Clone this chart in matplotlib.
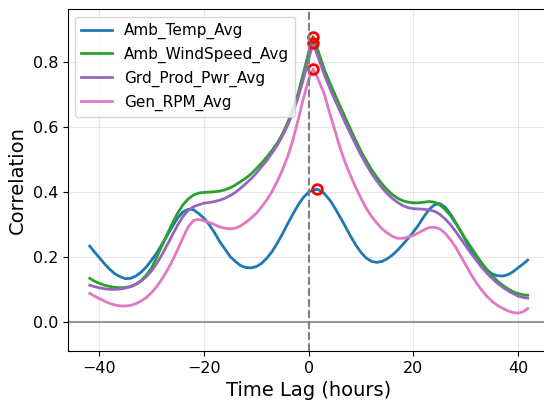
import numpy as np
import matplotlib
matplotlib.use("Agg")
import matplotlib.pyplot as plt

# lag in hours
lags = [-41.8, -41, -40, -39, -38, -37, -36, -35, -34, -33, -32, -31, -30, -29,
        -28, -27, -26, -25, -24, -23, -22, -21, -20, -19, -18, -17, -16, -15,
        -14, -13, -12, -11, -10, -9, -8, -7, -6, -5, -4, -3, -2, -1, 0,
        0.83, 1.67,
        3, 4, 5, 6, 7, 8, 9, 10, 11, 12, 13, 14, 15, 16, 17, 18, 19, 20, 21,
        22, 23, 24, 25, 26, 27, 28, 29, 30, 31, 32, 33, 34, 35, 36, 37, 38, 39,
        40, 41, 41.8]

amb_temp = [0.234, 0.218, 0.199, 0.180, 0.163, 0.149, 0.140, 0.134, 0.135, 0.142,
            0.154, 0.170, 0.191, 0.213, 0.240, 0.267, 0.295, 0.321, 0.339, 0.347,
            0.346, 0.334, 0.320, 0.300, 0.276, 0.248, 0.225, 0.202, 0.187, 0.174,
            0.168, 0.167, 0.171, 0.181, 0.197, 0.217, 0.243, 0.272, 0.303, 0.333,
            0.361, 0.384, 0.400,
            0.406, 0.409,
            0.395, 0.376, 0.351, 0.323, 0.294, 0.264, 0.237, 0.214, 0.197, 0.187,
            0.184, 0.187, 0.195, 0.207, 0.222, 0.240, 0.258, 0.278, 0.300, 0.325,
            0.347, 0.361, 0.365, 0.354, 0.334, 0.308, 0.280, 0.250, 0.221, 0.198,
            0.176, 0.160, 0.149, 0.143, 0.142, 0.146, 0.155, 0.168, 0.180, 0.191]

amb_wind = [0.135, 0.127, 0.120, 0.114, 0.110, 0.107, 0.106, 0.107, 0.110, 0.117,
            0.128, 0.145, 0.167, 0.200, 0.236, 0.271, 0.305, 0.336, 0.361, 0.379,
            0.391, 0.397, 0.399, 0.400, 0.401, 0.403, 0.407, 0.413, 0.422, 0.432,
            0.443, 0.456, 0.472, 0.489, 0.508, 0.528, 0.551, 0.579, 0.614, 0.655,
            0.705, 0.766, 0.830,
            0.878, 0.840,
            0.776, 0.737, 0.700, 0.664, 0.628, 0.592, 0.558, 0.525, 0.496, 0.469,
            0.446, 0.425, 0.407, 0.392, 0.381, 0.373, 0.369, 0.367, 0.367, 0.369,
            0.371, 0.369, 0.361, 0.347, 0.329, 0.305, 0.280, 0.254, 0.230, 0.206,
            0.183, 0.162, 0.144, 0.127, 0.114, 0.103, 0.094, 0.088, 0.084, 0.083]

grd_pwr = [0.114, 0.110, 0.106, 0.103, 0.101, 0.101, 0.102, 0.105, 0.109, 0.116,
           0.126, 0.140, 0.158, 0.181, 0.208, 0.238, 0.269, 0.299, 0.325, 0.344,
           0.355, 0.361, 0.366, 0.368, 0.371, 0.375, 0.381, 0.389, 0.399, 0.412,
           0.426, 0.441, 0.458, 0.478, 0.497, 0.520, 0.544, 0.573, 0.606, 0.645,
           0.692, 0.748, 0.810,
           0.857, 0.820,
           0.760, 0.720, 0.683, 0.648, 0.612, 0.578, 0.545, 0.513, 0.484, 0.457,
           0.434, 0.413, 0.395, 0.380, 0.368, 0.358, 0.352, 0.349, 0.348, 0.347,
           0.345, 0.341, 0.332, 0.318, 0.301, 0.280, 0.257, 0.234, 0.211, 0.190,
           0.169, 0.151, 0.135, 0.120, 0.108, 0.097, 0.088, 0.080, 0.076, 0.074]

gen_rpm = [0.089, 0.081, 0.073, 0.065, 0.058, 0.053, 0.050, 0.050, 0.052, 0.057,
           0.065, 0.076, 0.091, 0.110, 0.133, 0.160, 0.190, 0.224, 0.260, 0.293,
           0.313, 0.316, 0.312, 0.307, 0.300, 0.293, 0.289, 0.287, 0.289, 0.296,
           0.307, 0.320, 0.335, 0.354, 0.376, 0.402, 0.433, 0.469, 0.510, 0.561,
           0.623, 0.689, 0.746,
           0.778, 0.752,
           0.700, 0.643, 0.590, 0.535, 0.489, 0.450, 0.413, 0.380, 0.350, 0.325,
           0.305, 0.287, 0.274, 0.264, 0.258, 0.258, 0.262, 0.267, 0.275, 0.284,
           0.291, 0.292, 0.287, 0.274, 0.255, 0.232, 0.204, 0.175, 0.147, 0.121,
           0.099, 0.080, 0.064, 0.052, 0.043, 0.035, 0.030, 0.028, 0.033, 0.042]

series = {
    "Amb_Temp_Avg": (amb_temp, "tab:blue"),
    "Amb_WindSpeed_Avg": (amb_wind, "tab:green"),
    "Grd_Prod_Pwr_Avg": (grd_pwr, "tab:purple"),
    "Gen_RPM_Avg": (gen_rpm, "tab:pink"),
}

fig = plt.figure(figsize=(5.44, 4.01), dpi=100)
ax = fig.add_axes([0.1245, 0.125, 0.886, 0.852])

for name, (vals, col) in series.items():
    ax.plot(lags, vals, color=col, lw=2, label=name)

# mark the peak of each curve
for name, (vals, col) in series.items():
    i = int(np.argmax(vals))
    ax.plot(lags[i], vals[i], 'o', mfc='none', mec='red', ms=7, mew=2)

ax.axvline(0, color='grey', ls='--', lw=1.5)
ax.axhline(0, color='grey', lw=1.5, alpha=0.8)

ax.set_xlim(-46, 46)
ax.set_ylim(-0.088, 0.962)
ax.set_xticks([-40, -20, 0, 20, 40])
ax.set_yticks([0.0, 0.2, 0.4, 0.6, 0.8])
ax.grid(True, alpha=0.3)
ax.tick_params(labelsize=11.5)
ax.set_xlabel('Time Lag (hours)', fontsize=14)
ax.set_ylabel('Correlation', fontsize=14)
ax.legend(loc='upper left', fontsize=11)

fig.savefig("out.png", dpi=100)
